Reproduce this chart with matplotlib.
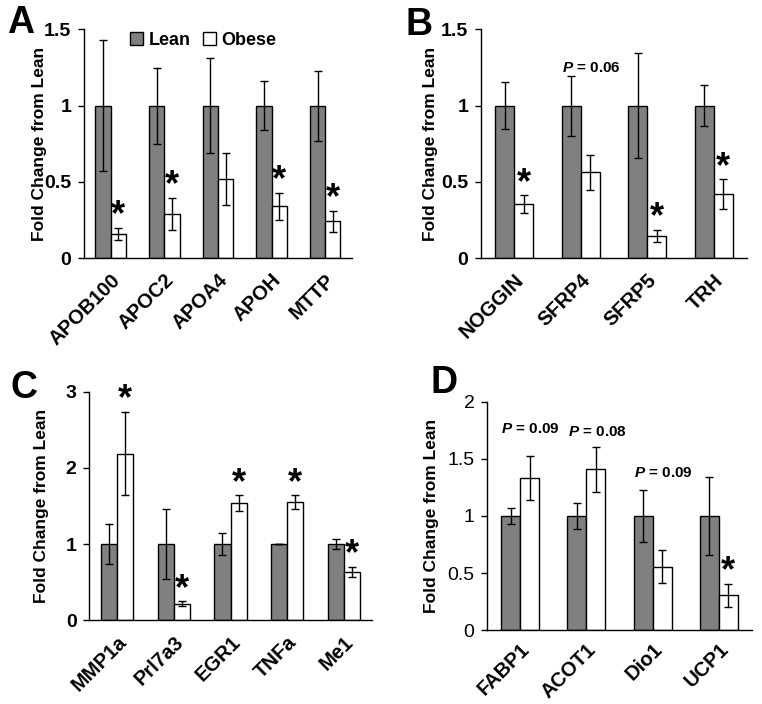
import numpy as np
import matplotlib
matplotlib.use('Agg')
import matplotlib.pyplot as plt
from matplotlib.patches import Patch

plt.rcParams['font.family'] = ['Liberation Sans', 'DejaVu Sans']
plt.rcParams['mathtext.fontset'] = 'custom'
plt.rcParams['mathtext.bfit'] = 'Liberation Sans:bold:italic'
plt.rcParams['mathtext.it'] = 'Liberation Sans:italic'

# panel A
genes_a = ['APOB100', 'APOC2', 'APOA4', 'APOH', 'MTTP']
lean_a = [1, 1, 1, 1, 1]
lean_err_a = [0.43, 0.25, 0.31, 0.16, 0.23]
obese_a = [0.16, 0.29, 0.52, 0.34, 0.24]
obese_err_a = [0.04, 0.105, 0.17, 0.09, 0.07]
star_a = [True, True, False, True, True]

# panel B
genes_b = ['NOGGIN', 'SFRP4', 'SFRP5', 'TRH']
lean_b = [1, 1, 1, 1]
lean_err_b = [0.156, 0.197, 0.345, 0.133]
obese_b = [0.354, 0.563, 0.146, 0.421]
obese_err_b = [0.058, 0.116, 0.038, 0.096]
star_b = [True, False, True, True]

# panel C
genes_c = ['MMP1a', 'Prl7a3', 'EGR1', 'TNFa', 'Me1']
lean_c = [1, 1, 1, 1, 1]
lean_err_c = [0.26, 0.457, 0.144, 0.0, 0.068]
obese_c = [2.19, 0.214, 1.537, 1.55, 0.633]
obese_err_c = [0.548, 0.033, 0.105, 0.09, 0.064]
star_c = [True, True, True, True, True]

# panel D
genes_d = ['FABP1', 'ACOT1', 'Dio1', 'UCP1']
lean_d = [1, 1, 1, 1]
lean_err_d = [0.067, 0.114, 0.227, 0.338]
obese_d = [1.332, 1.411, 0.554, 0.303]
obese_err_d = [0.194, 0.197, 0.145, 0.1]
star_d = [False, False, False, True]

# P-value notes: (group index, text, y)
pnotes_b = [(1, '0.06', 1.245)]
pnotes_d = [(0, '0.09', 1.76), (1, '0.08', 1.74), (2, '0.09', 1.38)]

LEAN_COLOR = '#808080'
W = 0.285


def draw_panel(ax, genes, lean, lean_err, obese, obese_err, stars, ymax, yticks,
               label_x, bold_ticks=True, pnotes=(), xpad=9):
    x = np.arange(len(genes))
    ax.bar(x - W / 2, lean, W, color=LEAN_COLOR, edgecolor='black', linewidth=1.0, zorder=2)
    ax.bar(x + W / 2, obese, W, color='white', edgecolor='black', linewidth=1.0, zorder=2)
    ekw = dict(fmt='none', ecolor='black', elinewidth=1.0, capsize=3.2, capthick=1.0, zorder=3)
    ax.errorbar(x - W / 2, lean, yerr=lean_err, **ekw)
    ax.errorbar(x + W / 2, obese, yerr=obese_err, **ekw)
    for i, s in enumerate(stars):
        if s:
            ax.annotate('*', (x[i] + W / 2, obese[i] + obese_err[i]), xytext=(0, -4),
                        textcoords='offset points', ha='center', va='bottom',
                        fontsize=26, fontweight='bold')
    for i, val, y in pnotes:
        ax.text(x[i] + 0.16, y, r'$\mathbfit{P}$ = ' + val, ha='center', va='center',
                fontsize=11, fontweight='bold')
    ax.set_xlim(-0.5, len(genes) - 0.5)
    ax.set_ylim(0, ymax)
    ax.set_yticks(yticks)
    ax.set_yticklabels([('%g' % t) for t in yticks],
                       fontsize=14, fontweight='bold' if bold_ticks else 'normal')
    ax.set_xticks(x)
    ax.set_xticklabels(genes, rotation=45, ha='right', va='top', rotation_mode='anchor',
                       fontsize=14.5, fontweight='bold')
    ax.tick_params(axis='x', length=0, pad=xpad)
    ax.tick_params(axis='y', length=4, width=1, direction='out', pad=5)
    ax.spines['top'].set_visible(False)
    ax.spines['right'].set_visible(False)
    for sp in ('left', 'bottom'):
        ax.spines[sp].set_linewidth(1.0)
    ax.set_ylabel('Fold Change from Lean', fontsize=12.5, fontweight='bold')
    ax.yaxis.set_label_coords(label_x, 0.5)


fig = plt.figure(figsize=(7.62, 7.04), dpi=100)
ax_a = fig.add_axes([0.1102, 0.6335, 0.3517, 0.3246])
ax_b = fig.add_axes([0.6312, 0.6335, 0.3491, 0.3246])
ax_c = fig.add_axes([0.1168, 0.1193, 0.3714, 0.3239])
ax_d = fig.add_axes([0.6391, 0.1051, 0.3478, 0.3239])

draw_panel(ax_a, genes_a, lean_a, lean_err_a, obese_a, obese_err_a, star_a, 1.5,
           [0, 0.5, 1, 1.5], -0.138)
draw_panel(ax_b, genes_b, lean_b, lean_err_b, obese_b, obese_err_b, star_b, 1.5,
           [0, 0.5, 1, 1.5], -0.162, pnotes=pnotes_b)
draw_panel(ax_c, genes_c, lean_c, lean_err_c, obese_c, obese_err_c, star_c, 3,
           [0, 1, 2, 3], -0.142)
draw_panel(ax_d, genes_d, lean_d, lean_err_d, obese_d, obese_err_d, star_d, 2,
           [0, 0.5, 1, 1.5, 2], -0.180, bold_ticks=False, pnotes=pnotes_d, xpad=7)

handles = [Patch(facecolor=LEAN_COLOR, edgecolor='black', label='Lean'),
           Patch(facecolor='white', edgecolor='black', label='Obese')]
ax_a.legend(handles=handles, loc='center', bbox_to_anchor=(0.445, 0.954), ncol=2, frameon=False,
            prop={'weight': 'bold', 'size': 13}, handlelength=0.7, handleheight=0.7,
            handletextpad=0.3, columnspacing=0.7, borderaxespad=0)

for lab, (px, py) in zip('ABCD', [(7, 5), (406, 7), (10, 370), (431, 365)]):
    fig.text(px / 762, 1 - py / 704, lab, fontsize=27, fontweight='bold', ha='left', va='top')

fig.savefig('out.png', dpi=100)
